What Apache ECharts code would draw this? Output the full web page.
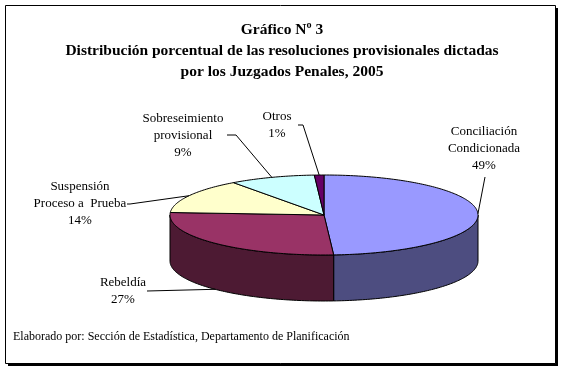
<!DOCTYPE html>
<html><head><meta charset="utf-8">
<script src="https://cdn.jsdelivr.net/npm/echarts@6/dist/echarts.min.js"></script>
<style>html,body{margin:0;padding:0;background:#fff}#c{width:564px;height:373px}</style>
</head><body><div id="c"></div>
<script>
// ---- data ----
const categories = ['Conciliación Condicionada', 'Rebeldía', 'Suspensión Proceso a Prueba', 'Sobreseimiento provisional', 'Otros'];
const labelLines = [['Conciliación', 'Condicionada'], ['Rebeldía'], ['Suspensión', 'Proceso a  Prueba'], ['Sobreseimiento', 'provisional'], ['Otros']];
const values = [49, 27, 14, 9, 1];
const titleLines = ['Gráfico Nº 3', 'Distribución porcentual de las resoluciones provisionales dictadas', 'por los Juzgados Penales, 2005'];
const footnote = 'Elaborado por: Sección de Estadística, Departamento de Planificación';

// ---- styles / layout ----
const topColors = ['#9999FF', '#993366', '#FFFFCC', '#CCFFFF', '#660066'];
const sideColors = ['#4D4D80', '#4D1A33', '#80806A', '#6A8080', '#330033'];
const PIE = { cx: 324, cy: 215, rx: 154, ry: 40, depth: 46 };
const labelAt = [[484, 132], [123, 283], [80, 187], [183, 119], [277, 117]];
const leaderStart = [[[485, 177]], [[147, 291]], [[127, 204], [130, 204]], [[227, 135], [236, 135]], [[298, 125], [303, 125]]];
const FONT = '"Liberation Serif", "Times New Roman", serif';

const total = values.reduce((a, b) => a + b, 0);
function angles(i) {
  let s = 0;
  for (let k = 0; k < i; k++) s += values[k];
  return [s / total * 360, (s + values[i]) / total * 360];
}
function pt(t, dy) {
  const r = t * Math.PI / 180;
  return [PIE.cx + PIE.rx * Math.sin(r), PIE.cy - PIE.ry * Math.cos(r) + dy];
}
function arc(a, b, dy) {
  const pts = [];
  const n = Math.max(2, Math.ceil(Math.abs(b - a)));
  for (let k = 0; k <= n; k++) pts.push(pt(a + (b - a) * k / n, dy));
  return pts;
}

function sideItem(params, api) {
  const i = params.dataIndex;
  const [s, e] = angles(i);
  const a = Math.max(s, 90), b = Math.min(e, 270);
  if (a >= b) return { type: 'group', children: [] };
  const pts = arc(a, b, 0).concat(arc(b, a, PIE.depth));
  return { type: 'polygon', shape: { points: pts }, style: { fill: sideColors[i], stroke: '#000', lineWidth: 1 } };
}
function topItem(params, api) {
  const i = params.dataIndex;
  const [s, e] = angles(i);
  const pts = [[PIE.cx, PIE.cy]].concat(arc(s, e, 0));
  return { type: 'polygon', shape: { points: pts }, style: { fill: topColors[i], stroke: '#000', lineWidth: 1 } };
}
function labelItem(params, api) {
  const i = params.dataIndex;
  const v = api.value(0);
  const [s, e] = angles(i);
  const mid = (s + e) / 2;
  const end = pt(mid, (mid > 90 && mid < 270) ? PIE.depth : 0);
  const pct = Math.round(v / total * 100) + '%';
  const txt = labelLines[i].concat([pct]).join('\n');
  const lh = 17;
  return {
    type: 'group',
    children: [
      { type: 'polyline', shape: { points: leaderStart[i].concat([end]) }, style: { stroke: '#000', lineWidth: 1, fill: null } },
      { type: 'text', style: { text: txt, x: labelAt[i][0], y: labelAt[i][1] - lh / 2, align: 'center', verticalAlign: 'top', lineHeight: lh, font: '13px ' + FONT, fill: '#000' } }
    ]
  };
}

const chart = echarts.init(document.getElementById('c'), null, { renderer: 'canvas' });
chart.setOption({
  backgroundColor: '#fff',
  animation: false,
  title: {
    text: titleLines.join('\n'), left: 'center', top: 19, padding: 0,
    textStyle: { fontFamily: FONT, fontSize: 15.5, fontWeight: 'bold', lineHeight: 21, color: '#000' }
  },
  graphic: [
    { type: 'rect', z: -2, shape: { x: 8, y: 8, width: 550, height: 358 }, style: { fill: '#000' } },
    { type: 'rect', z: -1, shape: { x: 5.5, y: 5.5, width: 550, height: 358 }, style: { fill: '#fff', stroke: '#000', lineWidth: 1 } },
    { type: 'text', z: 5, style: { text: footnote, x: 13, y: 337, verticalAlign: 'middle', font: '12px ' + FONT, fill: '#000' } }
  ],
  series: [
    { type: 'custom', name: 'side', coordinateSystem: 'none', z: 2, data: values, renderItem: sideItem, silent: true },
    { type: 'custom', name: 'top', coordinateSystem: 'none', z: 3, data: values, renderItem: topItem, silent: true },
    { type: 'custom', name: 'labels', coordinateSystem: 'none', z: 4, data: values, renderItem: labelItem, silent: true }
  ]
});
</script></body></html>
